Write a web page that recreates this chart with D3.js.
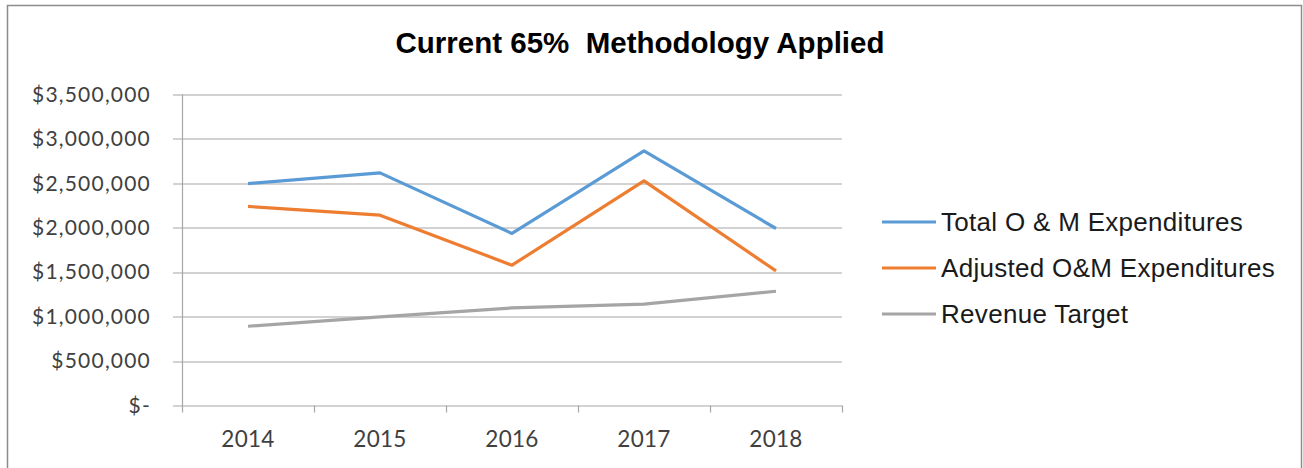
<!DOCTYPE html>
<html>
<head>
<meta charset="utf-8">
<script src="https://cdn.jsdelivr.net/npm/d3@7"></script>
<style>
  body { margin: 0; background: #fff; }
  svg { display: block; }
</style>
</head>
<body>
<div id="chart"></div>
<script>
const years = ['2014', '2015', '2016', '2017', '2018'];
const totalOM = [2498000, 2618000, 1936000, 2865000, 1992000];
const adjustedOM = [2240000, 2142000, 1579000, 2528000, 1515000];
const revenueTarget = [892000, 997000, 1098000, 1140000, 1286000];
const yTicks = [0, 500000, 1000000, 1500000, 2000000, 2500000, 3000000, 3500000];

const seriesNames = ['Total O & M Expenditures', 'Adjusted O&M Expenditures', 'Revenue Target'];
const seriesColors = ['#5b9bd5', '#ed7d31', '#a5a5a5'];
const seriesValues = [totalOM, adjustedOM, revenueTarget];

const W = 1303, H = 468;
const margin = { top: 94.5, left: 182, right: 461, bottom: 62.5 };
const plotW = W - margin.left - margin.right;
const plotH = H - margin.top - margin.bottom;

const svg = d3.select('#chart').append('svg')
    .attr('width', W)
    .attr('height', H);

// outer chart border
svg.append('rect')
    .attr('x', 7.5).attr('y', 5.5)
    .attr('width', 1294).attr('height', 470)
    .attr('fill', 'none')
    .attr('stroke', '#8c8c8c')
    .attr('stroke-width', 1.5);

svg.append('text')
    .attr('x', 640).attr('y', 53)
    .attr('text-anchor', 'middle')
    .attr('xml:space', 'preserve')
    .style('font-family', 'Liberation Sans, Arial, sans-serif')
    .style('font-weight', 'bold')
    .style('font-size', '29.5px')
    .style('white-space', 'pre')
    .text('Current 65%  Methodology Applied');

const g = svg.append('g')
    .attr('transform', 'translate(' + margin.left + ',' + margin.top + ')');

const y = d3.scaleLinear()
    .domain([0, 3500000])
    .range([plotH, 0]);

const x = d3.scaleBand()
    .domain(years)
    .range([0, plotW]);

// gridlines (extend left as tick marks)
g.selectAll('.grid')
    .data(yTicks)
    .enter().append('line')
    .attr('x1', -9).attr('x2', plotW)
    .attr('y1', d => Math.round(y(d)) + 0.5)
    .attr('y2', d => Math.round(y(d)) + 0.5)
    .attr('stroke', '#a6a6a6')
    .attr('stroke-width', 1.2);

// y labels
const fmt = d3.format(',');
g.append('g')
    .call(d3.axisLeft(y).tickValues(yTicks).tickSize(0).tickPadding(31)
        .tickFormat(d => d === 0 ? '$-' : '$' + fmt(d)))
    .call(s => s.select('.domain').remove())
    .selectAll('text')
    .style('font-family', 'Lato, sans-serif')
    .style('font-size', '21px')
    .style('letter-spacing', '1.2px')
    .attr('fill', '#404040');

// y axis line
g.append('line')
    .attr('x1', 0.5).attr('x2', 0.5)
    .attr('y1', 0).attr('y2', plotH + 7)
    .attr('stroke', '#a6a6a6')
    .attr('stroke-width', 1.2);

// category boundary ticks
const bounds = years.map(d => x(d)).concat([plotW]);
g.selectAll('.xtick')
    .data(bounds.slice(1))
    .enter().append('line')
    .attr('x1', d => Math.round(d) + 0.5).attr('x2', d => Math.round(d) + 0.5)
    .attr('y1', plotH).attr('y2', plotH + 7)
    .attr('stroke', '#a6a6a6')
    .attr('stroke-width', 1.2);

// x labels
g.append('g')
    .attr('transform', 'translate(0,' + plotH + ')')
    .call(d3.axisBottom(x).tickSize(0).tickPadding(26))
    .call(s => s.select('.domain').remove())
    .selectAll('text')
    .style('font-family', 'Lato, sans-serif')
    .style('font-size', '22.5px')
    .style('letter-spacing', '0.3px')
    .attr('fill', '#404040');

const line = d3.line()
    .x((d, i) => x(years[i]) + x.bandwidth() / 2)
    .y(d => y(d));

// draw gray first so others sit on top
[2, 1, 0].forEach(k => {
    g.append('path')
        .datum(seriesValues[k])
        .attr('d', line)
        .attr('fill', 'none')
        .attr('stroke', seriesColors[k])
        .attr('stroke-width', 3.2)
        .attr('stroke-linejoin', 'round');
});

// legend
const legend = svg.append('g')
    .attr('transform', 'translate(882,222)');
seriesNames.forEach((name, i) => {
    const row = legend.append('g').attr('transform', 'translate(0,' + (i * 46) + ')');
    row.append('line')
        .attr('x1', 0).attr('x2', 54)
        .attr('y1', 0).attr('y2', 0)
        .attr('stroke', seriesColors[i])
        .attr('stroke-width', 3.2);
    row.append('text')
        .attr('x', 59).attr('y', 9)
        .style('font-family', 'Liberation Sans, Arial, sans-serif')
        .style('font-size', '26px')
        .style('letter-spacing', '0.3px')
        .attr('fill', '#1a1a1a')
        .text(name);
});
</script>
</body>
</html>
